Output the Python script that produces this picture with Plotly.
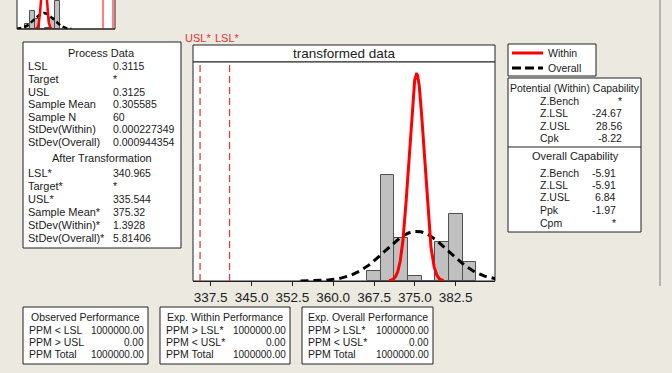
import numpy as np
import plotly.graph_objects as go

W, H = 672, 373
BG = "#ECE9E0"
FONT = "Liberation Sans"

# ---- process data (original scale) ----
lsl, usl = 0.3115, 0.3125
mean_o, sd_w_o, sd_o_o = 0.305585, 0.000227349, 0.000944354

# ---- transformed data ----
lsl_t, usl_t = 340.965, 335.544
mean_t, sd_w_t, sd_o_t = 375.32, 1.3928, 5.81406
n_obs = 60

bin_centers = [367.5, 370.0, 372.5, 375.0, 377.5, 380.0, 382.5, 385.0]
bin_counts = [2, 22, 9, 1, 0, 8, 14, 4]
bin_width = 2.5

tick_vals = [337.5, 345.0, 352.5, 360.0, 367.5, 375.0, 382.5]

# small original-scale histogram (top-left inset)
thumb_centers = [0.3039, 0.3044, 0.3049, 0.3054, 0.3059, 0.3064, 0.3069]
thumb_counts = [4, 14, 8, 0, 1, 9, 22]
thumb_width = 0.0005

process_rows = [("LSL", "0.3115"), ("Target", "*"), ("USL", "0.3125"),
                ("Sample Mean", "0.305585"), ("Sample N", "60"),
                ("StDev(Within)", "0.000227349"), ("StDev(Overall)", "0.000944354")]
after_rows = [("LSL*", "340.965"), ("Target*", "*"), ("USL*", "335.544"),
              ("Sample Mean*", "375.32"), ("StDev(Within)*", "1.3928"),
              ("StDev(Overall)*", "5.81406")]
within_cap = [("Z.Bench", "*"), ("Z.LSL", "-24.67"), ("Z.USL", "28.56"), ("Cpk", "-8.22")]
overall_cap = [("Z.Bench", "-5.91"), ("Z.LSL", "-5.91"), ("Z.USL", "6.84"),
               ("Ppk", "-1.97"), ("Cpm", "*")]
perf_boxes = [
    ("Observed Performance", [("PPM < LSL", "1000000.00"), ("PPM > USL", "0.00"),
                              ("PPM Total", "1000000.00")]),
    ("Exp. Within Performance", [("PPM > LSL*", "1000000.00"), ("PPM < USL*", "0.00"),
                                 ("PPM Total", "1000000.00")]),
    ("Exp. Overall Performance", [("PPM > LSL*", "1000000.00"), ("PPM < USL*", "0.00"),
                                  ("PPM Total", "1000000.00")]),
]


def px(x):
    return x / W


def py(y):
    return 1 - y / H


def npdf(x, m, s):
    return np.exp(-0.5 * ((x - m) / s) ** 2) / (s * np.sqrt(2 * np.pi))


fig = go.Figure()

# main histogram (density scale)
dens = [c / (n_obs * bin_width) for c in bin_counts]
fig.add_trace(go.Bar(x=bin_centers, y=dens, width=bin_width,
                     marker=dict(color="#C0C0C0", line=dict(color="#505050", width=1)),
                     xaxis="x", yaxis="y", showlegend=False))
xo = np.linspace(mean_t - 3.67 * sd_o_t, mean_t + 3.67 * sd_o_t, 300)
fig.add_trace(go.Scatter(x=xo, y=npdf(xo, mean_t, sd_o_t), mode="lines",
                         line=dict(color="black", width=3, dash="8px,5px"),
                         xaxis="x", yaxis="y", showlegend=False))
xw = np.linspace(mean_t - 3.6 * sd_w_t, mean_t + 3.6 * sd_w_t, 300)
fig.add_trace(go.Scatter(x=xw, y=npdf(xw, mean_t, sd_w_t), mode="lines",
                         line=dict(color="#FF0000", width=3),
                         xaxis="x", yaxis="y", showlegend=False))

# inset histogram (original scale)
tdens = [c / (n_obs * thumb_width) for c in thumb_counts]
fig.add_trace(go.Bar(x=thumb_centers, y=tdens, width=thumb_width,
                     marker=dict(color="#C0C0C0", line=dict(color="#505050", width=1)),
                     xaxis="x2", yaxis="y2", showlegend=False))
xo2 = np.linspace(mean_o - 2.9 * sd_o_o, mean_o + 2.9 * sd_o_o, 200)
fig.add_trace(go.Scatter(x=xo2, y=npdf(xo2, mean_o, sd_o_o), mode="lines",
                         line=dict(color="black", width=2.5, dash="5px,3px"),
                         xaxis="x2", yaxis="y2", showlegend=False))
xw2 = np.linspace(mean_o - 3.6 * sd_w_o, mean_o + 3.6 * sd_w_o, 200)
fig.add_trace(go.Scatter(x=xw2, y=npdf(xw2, mean_o, sd_w_o), mode="lines",
                         line=dict(color="#FF0000", width=2.5),
                         xaxis="x2", yaxis="y2", showlegend=False))

shapes = []
ann = []


def box(x0, y0, x1, y1, fill="white", lw=1, color="#202020"):
    shapes.append(dict(type="rect", xref="paper", yref="paper",
                       x0=px(x0), x1=px(x1), y0=py(y1), y1=py(y0),
                       fillcolor=fill, line=dict(color=color, width=lw), layer="below"))


def line(x0, y0, x1, y1, color="#202020", width=1, dash=None):
    d = dict(color=color, width=width)
    if dash:
        d["dash"] = dash
    shapes.append(dict(type="line", xref="paper", yref="paper",
                       x0=px(x0), x1=px(x1), y0=py(y0), y1=py(y1), line=d))


def text(x, y, s, anchor="left", size=10.5, color="#1A1A1A"):
    ann.append(dict(xref="paper", yref="paper", x=px(x), y=py(y), text=s,
                    showarrow=False, xanchor=anchor, yanchor="middle",
                    font=dict(family=FONT, size=size, color=color), borderpad=0))


# inset frame
box(17, -2, 115, 29)
line(17, 29, 115, 29)
for v in (lsl, usl):
    shapes.append(dict(type="line", xref="x2", yref="paper", x0=v, x1=v,
                       y0=py(29), y1=1, line=dict(color="#FF0000", width=1)))

# process data box
box(23, 42, 181, 248)
text(102, 53, "Process Data", "center", size=11)
ys = [66, 79, 92, 104, 117, 129, 142]
for (lab, val), y in zip(process_rows, ys):
    text(27, y, lab, size=11)
    text(112, y, val)
text(102, 158, "After Transformation", "center", size=11)
ys = [173, 186, 199, 212, 225, 238]
for (lab, val), y in zip(after_rows, ys):
    text(27, y, lab, size=11)
    text(112, y, val)

# main plot frame and title bar
box(193, 45, 495, 62)
box(193, 62, 495, 281)
text(344, 53.5, "transformed data", "center", size=13.5, color="#202020")
for v in (usl_t, lsl_t):
    shapes.append(dict(type="line", xref="x", yref="paper", x0=v, x1=v,
                       y0=py(281), y1=py(62),
                       line=dict(color="#E63A3C", width=1.3, dash="7px,4px")))
text(184, 38, "USL*", size=11, color="#E83030")
text(214, 38, "LSL*", size=11, color="#E83030")

# legend
box(508, 44, 596, 76)
line(512, 53, 543, 53, color="#FF0000", width=3)
text(547, 53, "Within")
line(512, 68, 543, 68, color="black", width=3, dash="9px,4px")
text(547, 68, "Overall")

# capability box
box(508, 78, 641, 232)
text(575, 88, "Potential (Within) Capability", "center", size=10.5)
ys = [101, 113, 126, 138]
for (lab, val), y in zip(within_cap, ys):
    text(539, y, lab)
    text(623, y, val, "right")
line(508, 147, 641, 147)
text(575, 156, "Overall Capability", "center", size=11)
ys = [173, 185, 197, 210, 223]
for (lab, val), y in zip(overall_cap, ys):
    text(539, y, lab)
    text(617, y, val, "right")

# outer divider
line(660, 0, 660, 286, color="#808080")

# performance boxes
bx = [(23, 148), (160, 290), (302, 433)]
for (x0, x1), (title, rows) in zip(bx, perf_boxes):
    box(x0, 307, x1, 364)
    text((x0 + x1) / 2, 317, title, "center")
    for (lab, val), y in zip(rows, [330, 342, 354]):
        text(x0 + 5, y, lab)
        text(x1 - 3, y, val, "right", size=10)

fig.update_layout(
    width=W, height=H, margin=dict(l=0, r=0, t=0, b=0),
    paper_bgcolor=BG, plot_bgcolor="rgba(0,0,0,0)",
    bargap=0, showlegend=False,
    shapes=shapes, annotations=ann,
    xaxis=dict(domain=[px(193), px(495)], range=[334.25, 389.72],
               tickvals=tick_vals, ticktext=[f"{v:.1f}" for v in tick_vals],
               ticks="outside", ticklen=4, tickcolor="#202020",
               showline=True, linecolor="#202020", showgrid=False, zeroline=False,
               tickfont=dict(family=FONT, size=13.5, color="#202020"), anchor="y"),
    yaxis=dict(domain=[py(281), py(62)], range=[0, 0.303], visible=False,
               showgrid=False, zeroline=False, anchor="x"),
    xaxis2=dict(domain=[px(17), px(115)], range=[0.3029, 0.3127], visible=False,
                showgrid=False, zeroline=False, anchor="y2"),
    yaxis2=dict(domain=[py(29), 1], range=[0, 766], visible=False,
                showgrid=False, zeroline=False, anchor="x2"),
)

fig.write_html("out.html")
